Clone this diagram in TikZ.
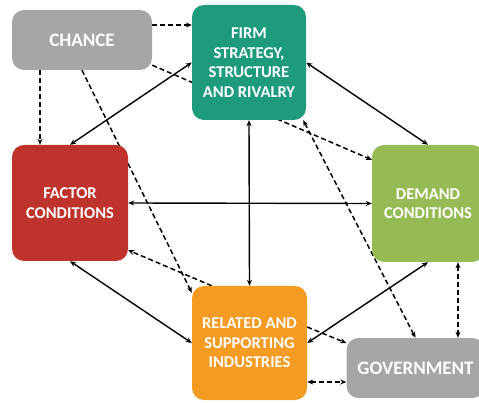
\documentclass[tikz,border=0pt]{standalone}
\usepackage{fontspec}
\setmainfont{Carlito}
\usetikzlibrary{arrows.meta,backgrounds}
\definecolor{chancegray}{RGB}{166,166,166}
\definecolor{firmteal}{RGB}{30,155,125}
\definecolor{factorred}{RGB}{190,52,45}
\definecolor{demandgreen}{RGB}{150,187,85}
\definecolor{relatedorange}{RGB}{244,155,35}
\begin{document}
\begin{tikzpicture}[x=1pt,y=-1pt,>={Stealth[length=6pt,width=5pt]},
  box/.style={rounded corners=12pt,text=white,align=center,inner sep=0pt,
    font=\bfseries\fontsize{16.5}{19.5}\selectfont},
  bigbox/.style={box,font=\bfseries\fontsize{19}{22}\selectfont},
  link/.style={line width=1.4pt},
  dlink/.style={line width=1.5pt,dash pattern=on 5pt off 3pt}]
\useasboundingbox (0,0) rectangle (479,403);
% the six boxes
\node[bigbox,fill=chancegray,minimum width=140pt,minimum height=60pt] (chance) at (82,40) {CHANCE};
\node[box,fill=firmteal,minimum width=114pt,minimum height=115pt] (firm) at (249,62.5) {FIRM\\STRATEGY,\\STRUCTURE\\AND RIVALRY};
\node[box,fill=factorred,minimum width=116pt,minimum height=116pt] (factor) at (70,203) {FACTOR\\CONDITIONS};
\node[box,fill=demandgreen,minimum width=112pt,minimum height=117pt] (demand) at (428,203.5) {DEMAND\\CONDITIONS};
\node[box,fill=relatedorange,minimum width=115pt,minimum height=114pt] (related) at (249.5,343) {RELATED AND\\SUPPORTING\\INDUSTRIES};
\node[bigbox,fill=chancegray,minimum width=138pt,minimum height=60pt] (gov) at (415.5,368) {GOVERNMENT};
\begin{scope}[on background layer]
% solid links
\draw[link,<->] (firm.west) -- (factor.north);
\draw[link,<->] (firm.east) -- (demand.north);
\draw[link,<->] (firm.south) -- (related.north);
\draw[link,<->] (factor.east) -- (demand.west);
\draw[link,<->] (factor.south) -- (related.west);
\draw[link,<->] (demand.south) -- (related.east);
% dashed links
\draw[dlink,->] ([yshift=15pt]chance.east) -- ([yshift=15pt]chance.east -| firm.west);
\draw[dlink,->] ([xshift=-42pt]chance.south) -- ([xshift=-42pt]chance.south |- factor.north);
\draw[dlink,->] (chance.south) -- ([yshift=-7pt]related.north west);
\draw[dlink,->] ([yshift=5pt]chance.south east) -- ([yshift=-15pt]demand.north west);
\draw[dlink,->] ([xshift=20pt]related.north west) -- ([yshift=11pt]factor.south east);
\draw[dlink,<->] ([xshift=-3pt]firm.south east) -- (gov.north);
\draw[dlink,<->] ([xshift=30pt]demand.south) -- ([xshift=30pt]demand.south |- gov.north);
\draw[dlink,<->] ([yshift=-14pt]gov.west -| related.east) -- ([yshift=-14pt]gov.west);
\draw[dlink,->] ([yshift=16pt]related.east) -- ([yshift=25pt]gov.west);
\end{scope}
\end{tikzpicture}
\end{document}
